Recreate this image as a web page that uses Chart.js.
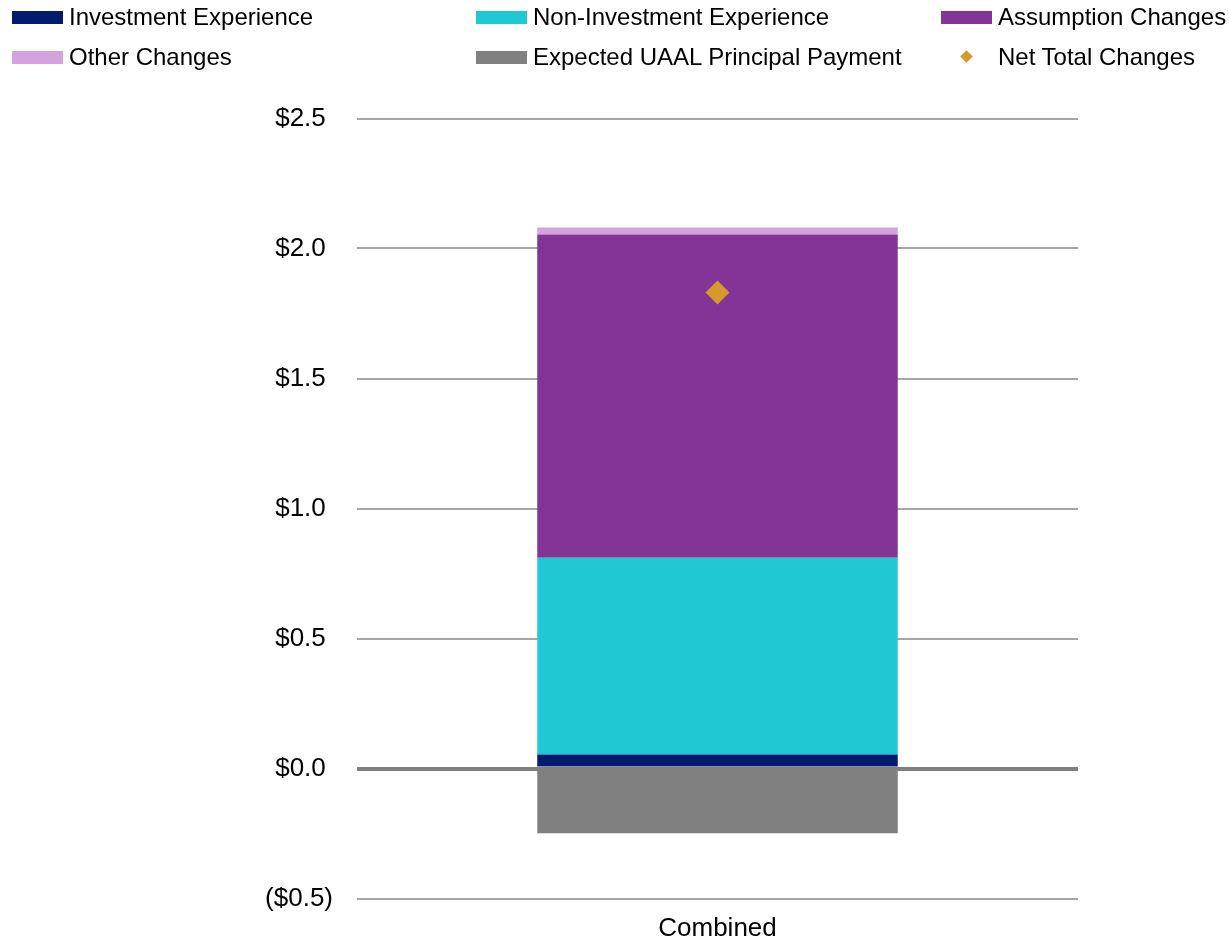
<!DOCTYPE html>
<html>
<head>
<meta charset="utf-8">
<script src="https://cdn.jsdelivr.net/npm/chart.js@4"></script>
<style>
  html, body { margin: 0; padding: 0; background: #fff; }
  body { width: 1229px; height: 941px; position: relative; overflow: hidden; font-family: "Liberation Sans", Arial, sans-serif; }
  #wrap { position: absolute; left: 0; top: 0; width: 1229px; height: 941px; }
  .lg { position: absolute; font-size: 24px; color: #000; line-height: 28px; white-space: nowrap; }
  .lg .box { position: absolute; width: 51px; height: 13px; }
  .lg .dia { position: absolute; width: 9px; height: 9px; transform: rotate(45deg); background: #D69A2C; }
</style>
</head>
<body>
<div id="wrap"><canvas id="c" width="1229" height="941"></canvas></div>
<div id="legend"></div>
<script>
const categories = ["Combined"];
const investmentExperience = [0.054];
const nonInvestmentExperience = [0.757];
const assumptionChanges = [1.243];
const otherChanges = [0.027];
const expectedUAALPrincipal = [-0.249];
const netTotalChanges = [1.831];
const yTickValues = [-0.5, 0, 0.5, 1.0, 1.5, 2.0, 2.5];

const colors = {
  inv: "#031B6E",
  nonInv: "#1FC8D2",
  assump: "#843496",
  other: "#D4A2DF",
  uaal: "#808080",
  net: "#D69A2C"
};

// HTML legend (text kept as real text)
const legendItems = [
  {label: "Investment Experience", color: colors.inv, x: 12, y: 17, type: "box"},
  {label: "Non-Investment Experience", color: colors.nonInv, x: 476, y: 17, type: "box"},
  {label: "Assumption Changes", color: colors.assump, x: 941, y: 17, type: "box"},
  {label: "Other Changes", color: colors.other, x: 12, y: 57, type: "box"},
  {label: "Expected UAAL Principal Payment", color: colors.uaal, x: 476, y: 57, type: "box"},
  {label: "Net Total Changes", color: colors.net, x: 941, y: 57, type: "dia"}
];
const lg = document.getElementById("legend");
legendItems.forEach(it => {
  const d = document.createElement("div");
  d.className = "lg";
  d.style.left = it.x + "px";
  d.style.top = (it.y - 14) + "px";
  d.style.paddingLeft = "57px";
  if (it.type === "box") {
    const b = document.createElement("span");
    b.className = "box";
    b.style.left = "0px";
    b.style.top = "8px";
    b.style.background = it.color;
    d.appendChild(b);
  } else {
    const b = document.createElement("span");
    b.className = "dia";
    b.style.left = "21px";
    b.style.top = "9px";
    d.appendChild(b);
  }
  d.appendChild(document.createTextNode(it.label));
  lg.appendChild(d);
});

function fmt(v) {
  const a = Math.abs(v).toFixed(1);
  return v < 0 ? "($" + a + ")" : "$" + a + " ";
}

new Chart(document.getElementById("c"), {
  data: {
    labels: categories,
    datasets: [
      {type: "line", label: "Net Total Changes", data: netTotalChanges, stack: "net",
       showLine: false, pointStyle: "rectRot", pointRadius: 12, pointHoverRadius: 12,
       backgroundColor: colors.net, borderColor: colors.net, borderWidth: 0, order: 0},
      {type: "bar", label: "Investment Experience", data: investmentExperience, backgroundColor: colors.inv, stack: "s", order: 1},
      {type: "bar", label: "Non-Investment Experience", data: nonInvestmentExperience, backgroundColor: colors.nonInv, stack: "s", order: 1},
      {type: "bar", label: "Assumption Changes", data: assumptionChanges, backgroundColor: colors.assump, stack: "s", order: 1},
      {type: "bar", label: "Other Changes", data: otherChanges, backgroundColor: colors.other, stack: "s", order: 1},
      {type: "bar", label: "Expected UAAL Principal Payment", data: expectedUAALPrincipal, backgroundColor: colors.uaal, stack: "s", order: 1}
    ]
  },
  options: {
    responsive: false,
    animation: false,
    events: [],
    datasets: { bar: { barPercentage: 0.5, categoryPercentage: 1.0 } },
    layout: { padding: { left: 0, right: 151, top: 118.5, bottom: 0 } },
    plugins: { legend: { display: false }, tooltip: { enabled: false } },
    scales: {
      x: {
        stacked: true,
        grid: { display: false, drawTicks: false },
        border: { display: false },
        ticks: { color: "#000", font: { family: "Liberation Sans", size: 26 }, padding: 15 },
        afterFit: s => { s.height = 42.5; }
      },
      y: {
        stacked: true,
        min: -0.5, max: 2.5,
        afterBuildTicks: s => { s.ticks = yTickValues.map(v => ({value: v})); },
        grid: {
          drawTicks: true,
          tickLength: 23,
          tickColor: "rgba(0,0,0,0)",
          color: ctx => (ctx.tick && ctx.tick.value === 0) ? "#808080" : "#A6A6A6",
          lineWidth: ctx => (ctx.tick && ctx.tick.value === 0) ? 4 : 2
        },
        border: { display: false },
        ticks: { color: "#000", font: { family: "Liberation Sans", size: 26 }, padding: 1,
                 callback: v => fmt(v) },
        afterFit: s => { s.width = 357; }
      }
    }
  }
});
</script>
</body>
</html>
